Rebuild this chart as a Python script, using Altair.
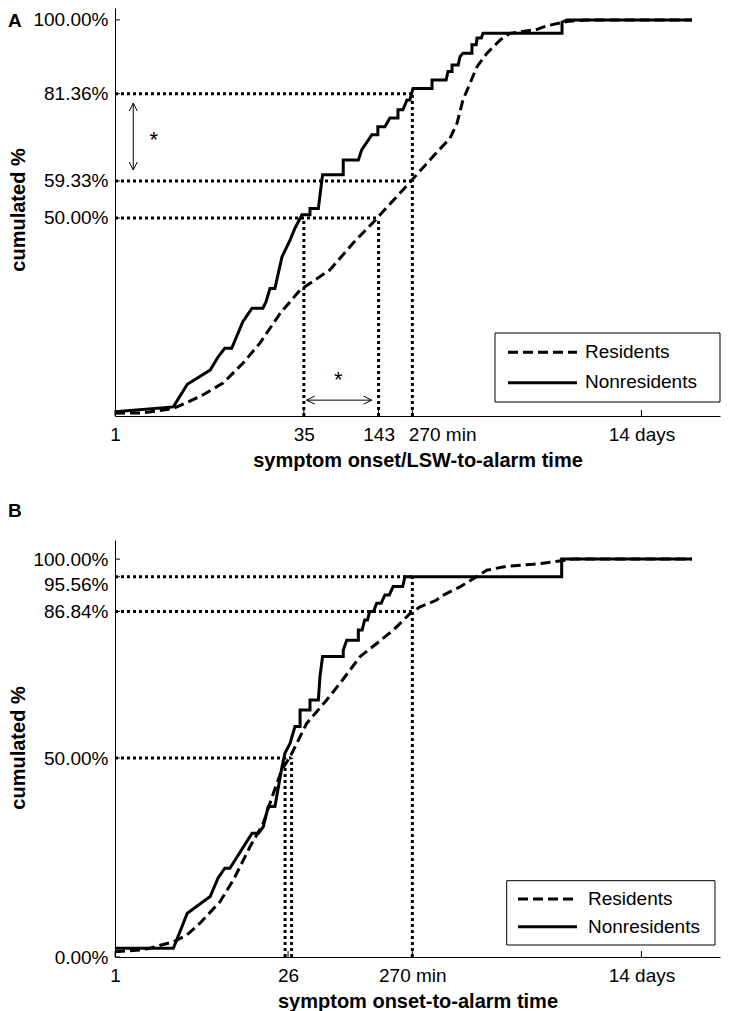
import altair as alt
import pandas as pd

FONT = "Liberation Sans"

# ---------------- data (minutes, cumulated %) ----------------
# Panel A
A_RES_T = [1, 1.7, 3.0, 4.95, 7.64, 11.1, 15.3, 22.4, 32.6, 57.3, 88.3, 101, 139, 147, 258,
           398, 548, 626, 700, 800, 912, 1101, 1406, 1698, 2823, 3406, 4960, 7230, 52200]
A_RES_P = [0.7, 0.8, 1.9, 4.9, 8.3, 13.3, 18.4, 25.9, 31.8, 36.9, 43.6, 45.5, 49.9, 50.8, 59.0,
           65.5, 70.1, 73.9, 79.8, 84.0, 88.2, 91.6, 94.9, 96.6, 97.6, 98.5, 99.6, 100, 100]
A_NON_T = [1, 3.0, 3.9, 6.0, 7.0, 7.9, 9.0, 11.1, 13.2, 16.2, 17.2, 18.5, 20.3, 23.2, 27.0,
           29.6, 33.8, 39.3, 39.3, 46.0, 49.8, 73.5, 73.5, 97.7, 104, 126, 141, 141, 161,
           177, 206, 206, 226, 244, 258, 273, 391, 391, 510, 528, 570, 570, 640, 662, 700,
           829, 829, 898, 912, 990, 1021, 4520, 4520, 4960, 52200]
A_NON_P = [1.1, 2.3, 8.0, 11.6, 15.0, 17.1, 17.1, 23.8, 27.2, 27.2, 28.9, 32.2, 32.2, 40.2, 44.4,
           47.4, 50.8, 50.8, 52.4, 52.4, 60.9, 60.9, 64.6, 64.6, 67.2, 71.0, 71.0, 73.0, 73.0,
           75.2, 75.2, 77.3, 77.3, 79.8, 79.8, 82.7, 82.7, 84.8, 84.8, 87.0, 87.0, 88.6, 88.6, 90.7, 91.6,
           91.6, 93.7, 93.7, 95.4, 95.4, 96.6, 96.6, 99.4, 100, 100]

# Panel B
B_RES_T = [1, 1.7, 3.0, 3.86, 4.95, 7.22, 9.27, 12.7, 16.3, 19.7, 23.1, 27.0, 36.9, 53.8, 69.2,
           101, 138, 189, 258, 312, 427, 454, 583, 662, 906, 1094, 1595, 2630, 3838, 5590, 52200]
B_RES_P = [1.3, 1.8, 3.8, 5.5, 8.5, 13.9, 19.3, 27.7, 33.6, 41.1, 47.0, 50.3, 58.7, 64.6, 68.8,
           75.5, 78.8, 82.2, 86.3, 88.0, 89.7, 90.5, 92.2, 93.0, 95.6, 97.2, 98.2, 98.7, 99.3, 100, 100]
B_NON_T = [1, 3.0, 3.9, 6.0, 6.95, 7.9, 8.7, 13.2, 14.9, 16.3, 17.9, 20.3, 23.2, 24.5, 27.0,
           29.6, 32.6, 32.6, 39.3, 39.3, 46.0, 47.4, 49.8, 73.5, 73.5, 78.4, 97.7, 97.7, 105,
           110, 116, 121, 130, 138, 150, 161, 175, 188, 225, 235, 4490, 4490, 52200]
B_NON_P = [2.2, 2.2, 11.0, 15.2, 19.8, 22.3, 22.3, 31.1, 31.1, 32.7, 37.8, 37.8, 47.8, 51.2, 53.7,
           57.9, 57.9, 62.1, 62.1, 64.6, 64.6, 70.4, 75.5, 75.5, 77.1, 79.6, 79.6, 82.2, 82.2,
           84.7, 84.7, 86.8, 86.8, 88.9, 88.9, 91.0, 91.0, 93.1, 93.1, 95.56, 95.56, 100, 100]

# ticks
A_XTICKS = [1, 35, 143, 270, 20160]
A_YTICKS = [50, 59.33, 81.36, 100]
B_XTICKS = [1, 26, 270, 20160]
B_YTICKS = [0, 50, 86.84, 95.56, 100]

# dotted reference lines
A_H_P = [81.36, 59.33, 50.0]
A_H_T = [270, 270, 143]
A_V_T = [35, 143, 270]
A_V_P = [50, 50, 81.36]
B_H_P = [95.56, 86.84, 50.0]
B_H_T = [270, 270, 27.8]
B_V_T = [24.6, 27.8, 270]
B_V_P = [50, 50, 95.56]

# significance annotations (panel A)
ARROW_T1 = [1.41, 36.9]
ARROW_P1 = [79.0, 4.0]
ARROW_T2 = [1.41, 125.6]
ARROW_P2 = [62.1, 4.0]
HEAD_T = [1.41, 1.41, 36.9, 125.6]
HEAD_P = [79.0, 62.1, 4.0, 4.0]
HEAD_ANG = [0, 180, 270, 90]
STAR_T = [2.08, 67]
STAR_P = [71.2, 10.4]

LEGEND_LABELS = ["Residents", "Nonresidents"]
Y_TITLE = "cumulated %"
X_TITLES = ["symptom onset/LSW-to-alarm time", "symptom onset-to-alarm time"]
PANEL_LETTERS = ["A", "B"]

XMAX = 88490
W = 605
dummy = pd.DataFrame({"d": [0]})

X_LABEL_EXPR = ("datum.value == 270 ? '270 min' : datum.value == 20160 ? '14 days' : "
                "format(datum.value, 'd')")
Y_LABEL_EXPR = "format(datum.value, '.2f') + '%'"


def panel(res_t, res_p, non_t, non_p, xticks, yticks, h_p, h_t, v_t, v_p,
          ymax, H, xtitle, letter, letter_y, ytitle_y, leg, shift270=False, annot=False,
          shift_y=None):
    xs = alt.Scale(type="log", domain=[1, XMAX], nice=False)
    ys = alt.Scale(domain=[0, ymax], nice=False, zero=False)

    x_extra = {}
    if shift270:
        x_extra["labelAlign"] = {"condition": {"test": "datum.value == 270", "value": "left"},
                                 "value": "center"}
        x_extra["labelOffset"] = {"condition": {"test": "datum.value == 270", "value": -4},
                                  "value": 0}
    y_extra = {}
    if shift_y is not None:
        y_extra["labelOffset"] = {"condition": {"test": "datum.value == %s" % shift_y,
                                                "value": 8}, "value": 0}

    xaxis = alt.Axis(values=xticks, labelExpr=X_LABEL_EXPR, title=xtitle,
                     titleY=50, titleBaseline="alphabetic", titleFontSize=20,
                     titleFontWeight="bold", titleFont=FONT, titleColor="black",
                     labelFont=FONT, labelFontSize=19, labelColor="black",
                     labelBaseline="alphabetic", labelPadding=24,
                     ticks=False, tickSize=0, domainColor="black", domainWidth=1,
                     grid=False, labelOverlap=False, labelFlush=False, labelBound=False,
                     **x_extra)
    yaxis = alt.Axis(values=yticks, labelExpr=Y_LABEL_EXPR, title=None,
                     labelFont=FONT, labelFontSize=19, labelColor="black",
                     labelPadding=7, ticks=False, tickSize=0, domainColor="black",
                     domainWidth=1, grid=False, labelOverlap=False, labelFlush=False,
                     labelBound=False, **y_extra)

    def X(f):
        return alt.X(f, scale=xs, axis=xaxis)

    def Y(f):
        return alt.Y(f, scale=ys, axis=yaxis)

    hl = alt.Chart(pd.DataFrame({"p": h_p, "t0": [1] * len(h_p), "t1": h_t})).mark_rule(
        strokeDash=[3, 3], strokeWidth=3, color="black").encode(
        x=X("t0:Q"), x2="t1:Q", y=Y("p:Q"))
    vl = alt.Chart(pd.DataFrame({"t": v_t, "p0": [0] * len(v_t), "p1": v_p})).mark_rule(
        strokeDash=[3, 3], strokeWidth=3, color="black").encode(
        x=X("t:Q"), y=Y("p0:Q"), y2="p1:Q")

    res = alt.Chart(pd.DataFrame({"t": res_t, "p": res_p, "i": range(len(res_t))})).mark_line(
        strokeDash=[10, 5], strokeWidth=3, color="black").encode(
        x=X("t:Q"), y=Y("p:Q"), order="i:Q")
    non = alt.Chart(pd.DataFrame({"t": non_t, "p": non_p, "i": range(len(non_t))})).mark_line(
        strokeWidth=3, color="black").encode(
        x=X("t:Q"), y=Y("p:Q"), order="i:Q")

    xt = alt.Chart(pd.DataFrame({"t": xticks})).mark_rule(color="black", strokeWidth=1).encode(
        x=X("t:Q"), y=alt.value(H), y2=alt.value(H - 6))
    yt = alt.Chart(pd.DataFrame({"p": yticks})).mark_rule(color="black", strokeWidth=1).encode(
        y=Y("p:Q"), x=alt.value(0), x2=alt.value(5))

    box = alt.Chart(dummy).mark_rect(fill="white", stroke="black", strokeWidth=1).encode(
        x=alt.value(leg["x0"]), x2=alt.value(leg["x1"]),
        y=alt.value(leg["y0"]), y2=alt.value(leg["y1"]))
    l1 = alt.Chart(dummy).mark_rule(strokeDash=[10, 5], strokeWidth=3, color="black").encode(
        x=alt.value(leg["lx0"]), x2=alt.value(leg["lx1"]), y=alt.value(leg["ly1"]))
    l2 = alt.Chart(dummy).mark_rule(strokeWidth=3, color="black").encode(
        x=alt.value(leg["lx0"]), x2=alt.value(leg["lx1"]), y=alt.value(leg["ly2"]))
    t1 = alt.Chart(dummy).mark_text(text=LEGEND_LABELS[0], align="left", baseline="alphabetic",
                                    fontSize=19, font=FONT, color="black").encode(
        x=alt.value(leg["tx"]), y=alt.value(leg["ty1"]))
    t2 = alt.Chart(dummy).mark_text(text=LEGEND_LABELS[1], align="left", baseline="alphabetic",
                                    fontSize=19, font=FONT, color="black").encode(
        x=alt.value(leg["tx"]), y=alt.value(leg["ty2"]))

    let = alt.Chart(dummy).mark_text(text=letter, align="left", baseline="alphabetic",
                                     fontSize=19, fontWeight="bold", font=FONT,
                                     color="black").encode(
        x=alt.value(-107), y=alt.value(letter_y))
    ytl = alt.Chart(dummy).mark_text(text=Y_TITLE, angle=270, align="center",
                                     baseline="alphabetic", fontSize=20, fontWeight="bold",
                                     font=FONT, color="black").encode(
        x=alt.value(-90), y=alt.value(ytitle_y))

    layers = [hl, vl, res, non, xt, yt, box, l1, l2, t1, t2, let, ytl]

    if annot:
        arr = alt.Chart(pd.DataFrame({"t": ARROW_T1, "p": ARROW_P1, "t2": ARROW_T2,
                                      "p2": ARROW_P2})).mark_rule(
            color="black", strokeWidth=1).encode(
            x=X("t:Q"), x2="t2:Q", y=Y("p:Q"), y2="p2:Q")
        heads = alt.Chart(pd.DataFrame({"t": HEAD_T, "p": HEAD_P, "a": HEAD_ANG})).mark_point(
            shape="M-1,2L0,0L1,2", size=64, filled=False, strokeWidth=1, color="black",
            opacity=1).encode(
            x=X("t:Q"), y=Y("p:Q"), angle=alt.Angle("a:Q", scale=None))
        stars = alt.Chart(pd.DataFrame({"t": STAR_T, "p": STAR_P})).mark_text(
            text="*", fontSize=22, baseline="alphabetic", align="center", dy=12.6,
            font=FONT, color="black").encode(
            x=X("t:Q"), y=Y("p:Q"))
        layers += [arr, heads, stars]

    return alt.layer(*layers).properties(width=W, height=H)


legA = dict(x0=380, x1=605, y0=325, y1=394, lx0=393, lx1=462, ly1=344.3, ly2=374.7,
            tx=470, ty1=350.3, ty2=380.3)
legB = dict(x0=391.7, x1=600, y0=340.7, y1=405, lx0=403, lx1=462, ly1=359, ly2=386.7,
            tx=473, ty1=365, ty2=393.3)

panelA = panel(A_RES_T, A_RES_P, A_NON_T, A_NON_P, A_XTICKS, A_YTICKS, A_H_P, A_H_T,
               A_V_T, A_V_P, 103, 408, X_TITLES[0], PANEL_LETTERS[0], 18.7, 202, legA,
               shift270=True, annot=True)
panelB = panel(B_RES_T, B_RES_P, B_NON_T, B_NON_P, B_XTICKS, B_YTICKS, B_H_P, B_H_T,
               B_V_T, B_V_P, 104.8, 417, X_TITLES[1], PANEL_LETTERS[1], -23.3, 208, legB,
               shift_y=95.56)

chart = alt.vconcat(panelA, panelB, spacing=124, bounds="flush").properties(
    padding=0).configure_view(stroke=None)

chart.save("out.html", embed_options={"renderer": "svg", "actions": False})
